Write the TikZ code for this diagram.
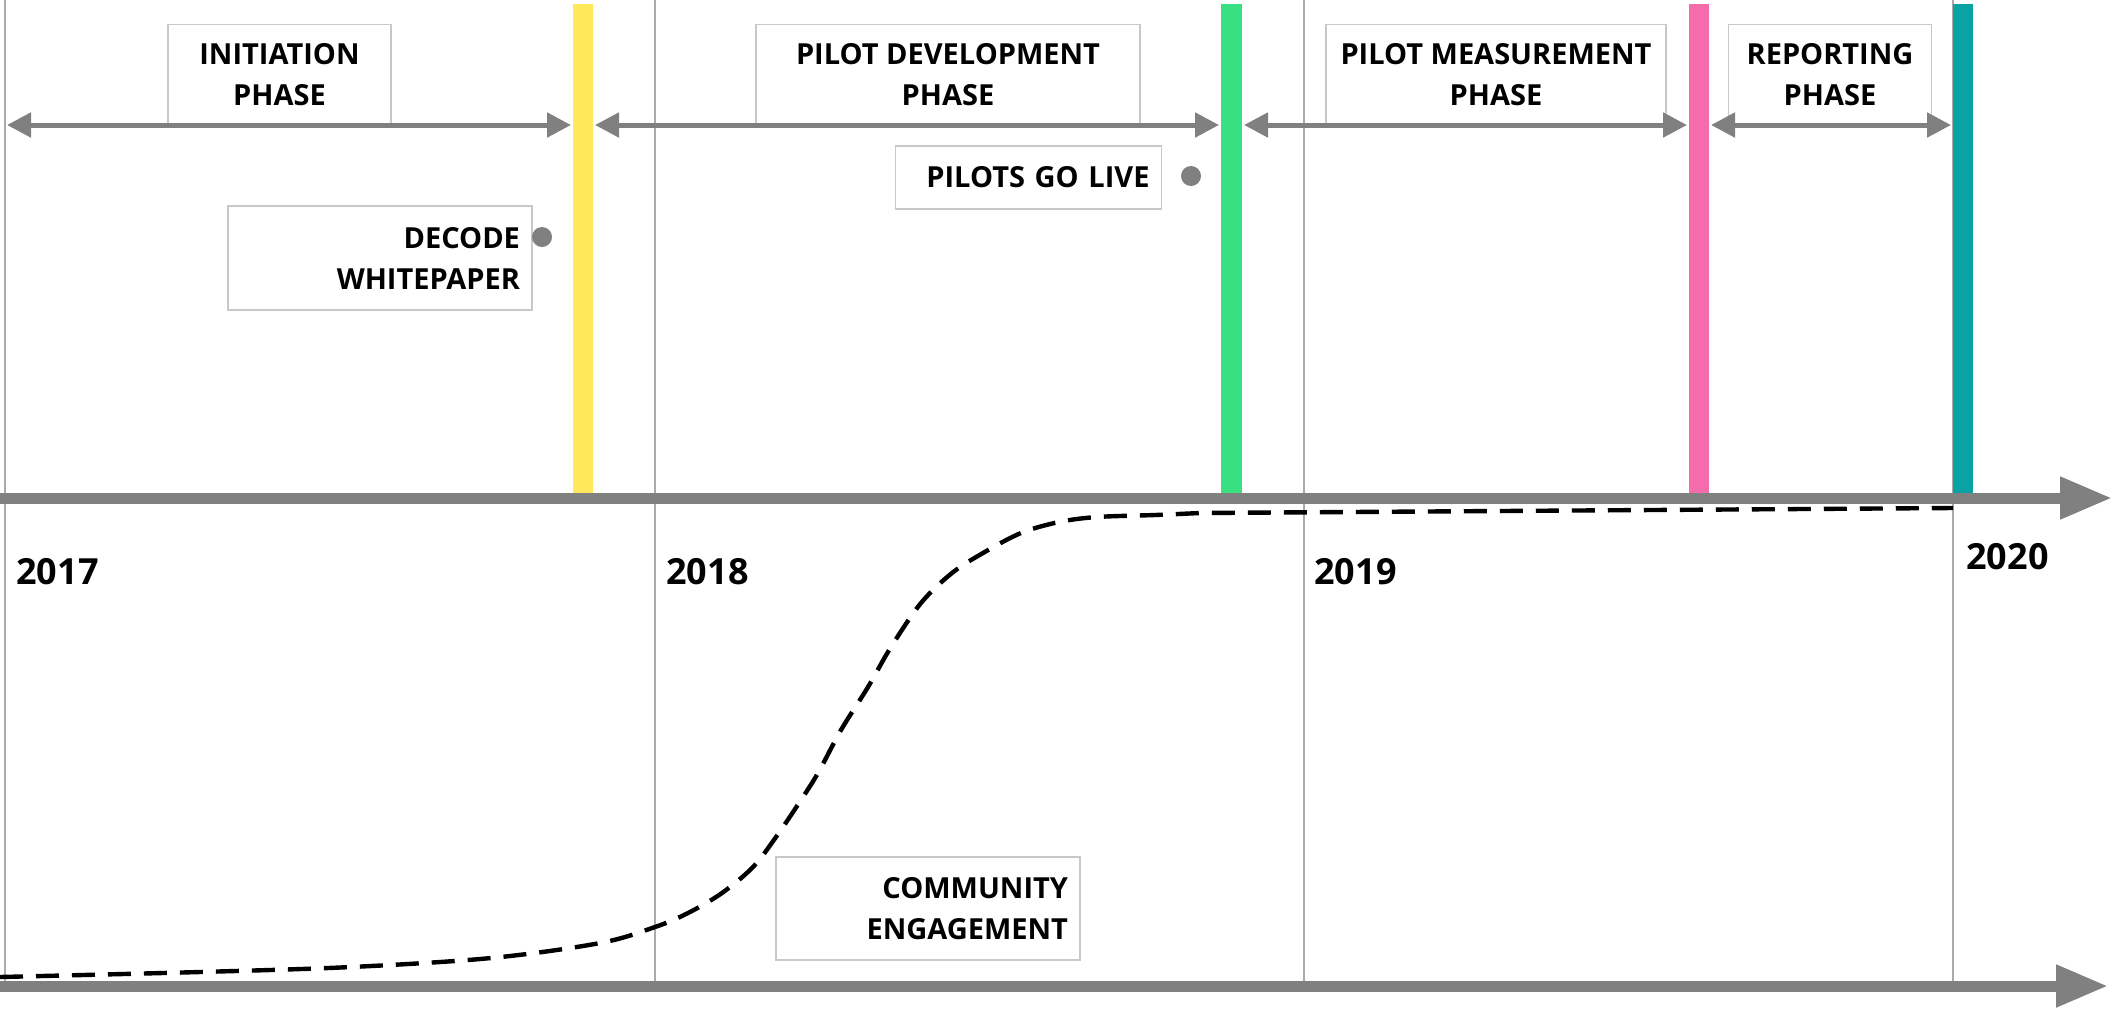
\documentclass[tikz,border=0pt]{standalone}
\usepackage{fontspec}
\setmainfont{Open Sans}
\usetikzlibrary{arrows.meta}
\definecolor{axisgray}{RGB}{128,128,128}
\definecolor{yeargray}{RGB}{170,170,170}
\definecolor{boxline}{RGB}{200,200,200}
\definecolor{dotgray}{RGB}{128,128,128}
\definecolor{baryellow}{RGB}{255,232,92}
\definecolor{bargreen}{RGB}{56,224,130}
\definecolor{barpink}{RGB}{245,108,172}
\definecolor{barteal}{RGB}{10,162,162}
\tikzset{
  lblfont/.style={font=\bfseries\fontsize{14.5}{20.5}\selectfont},
  phasebox/.style={draw=boxline, line width=0.6pt, fill=white, lblfont,
    align=center, inner sep=0pt, minimum height=50.5pt},
  notebox/.style={draw=boxline, line width=0.6pt, fill=white, lblfont,
    align=right, inner xsep=6pt, inner ysep=0pt},
  phasearrow/.style={draw=axisgray, line width=2.5pt,
    {Triangle[length=12pt,width=12pt]}-{Triangle[length=12pt,width=12pt]}},
  mainaxis/.style={draw=axisgray, line width=5.5pt,
    -{Triangle[length=26pt,width=20pt]}},
  yearline/.style={draw=yeargray, line width=1pt},
  yearlbl/.style={font=\bfseries\fontsize{18}{20}\selectfont, inner sep=0pt},
  milestone/.style={fill=dotgray, circle, inner sep=0pt, minimum size=10pt},
  curve/.style={draw=black, line width=2.2pt, dash pattern=on 11.5pt off 6.5pt}
}
\begin{document}
\begin{tikzpicture}[x=0.5pt,y=-0.5pt]
\useasboundingbox[fill=white] (0,0) rectangle (2114,1008);

% year lines
\coordinate (l17t) at (5,0);    \coordinate (l17b) at (5,986);
\coordinate (l18t) at (655,0);  \coordinate (l18b) at (655,986);
\coordinate (l19t) at (1304,0); \coordinate (l19b) at (1304,986);
\coordinate (l20t) at (1953,0); \coordinate (l20b) at (1953,986);
\draw[yearline] (l17t) -- (l17b);
\draw[yearline] (l18t) -- (l18b);
\draw[yearline] (l19t) -- (l19b);
\draw[yearline] (l20t) -- (l20b);

% coloured bars
\fill[baryellow] (573,4) rectangle (593,493);
\fill[bargreen] (1221,4) rectangle (1242,493);
\fill[barpink] (1689,4) rectangle (1709,493);
\fill[barteal] (1953,4) rectangle (1973,493);

% phase boxes
\node[phasebox, minimum width=111.5pt] (init) at (279.5,75) {INITIATION\\PHASE};
\node[phasebox, minimum width=192pt] (pdev) at (948,75) {PILOT DEVELOPMENT\\PHASE};
\node[phasebox, minimum width=170pt] (pmeas) at (1496,75) {PILOT MEASUREMENT\\PHASE};
\node[phasebox, minimum width=101.5pt] (rep) at (1830,75) {REPORTING\\PHASE};

% phase arrows
\coordinate (a1s) at (7,125);    \coordinate (a1e) at (571,125);
\coordinate (a2s) at (595,125);  \coordinate (a2e) at (1219,125);
\coordinate (a3s) at (1244,125); \coordinate (a3e) at (1687,125);
\coordinate (a4s) at (1711,125); \coordinate (a4e) at (1951,125);
\draw[phasearrow] (a1s) -- (a1e);
\draw[phasearrow] (a2s) -- (a2e);
\draw[phasearrow] (a3s) -- (a3e);
\draw[phasearrow] (a4s) -- (a4e);

% milestone notes
\node[notebox, text width=140pt, minimum height=52pt] (decode) at (380,258) {DECODE\\WHITEPAPER};
\node[milestone] (dot1) at (542,237) {};
\node[notebox, text width=121pt, minimum height=31.5pt] (live) at (1028.5,177.5) {PILOTS GO LIVE};
\node[milestone] (dot2) at (1191,176) {};

% community engagement curve
\coordinate (cend) at (1953,508);
\draw[curve] plot[smooth, tension=0.55] coordinates {
  (0,977) (200,972) (351,967) (491,958) (600,943) (655,927) (688,913)
  (722,893) (753,867) (776,837) (799,803) (818,773) (841,730) (868,687)
  (891,647) (921,603) (952,573) (983,553) (1021,533) (1059,522)
  (1097,517) (1155,515) (1200,513)} -- (cend);

\node[notebox, text width=140pt, minimum height=51.5pt] (comm) at (928,908.5) {COMMUNITY\\ENGAGEMENT};

% main axes
\coordinate (ax1s) at (0,498);  \coordinate (ax1e) at (2112,498);
\coordinate (ax2s) at (0,986);  \coordinate (ax2e) at (2108,986);
\draw[mainaxis] (ax1s) -- (ax1e);
\draw[mainaxis] (ax2s) -- (ax2e);

% year labels
\node[yearlbl, anchor=base west] (y2017) at (16,584) {2017};
\node[yearlbl, anchor=base west] (y2018) at (666,584) {2018};
\node[yearlbl, anchor=base west] (y2019) at (1314,584) {2019};
\node[yearlbl, anchor=base west] (y2020) at (1966,569) {2020};
\end{tikzpicture}
\end{document}
